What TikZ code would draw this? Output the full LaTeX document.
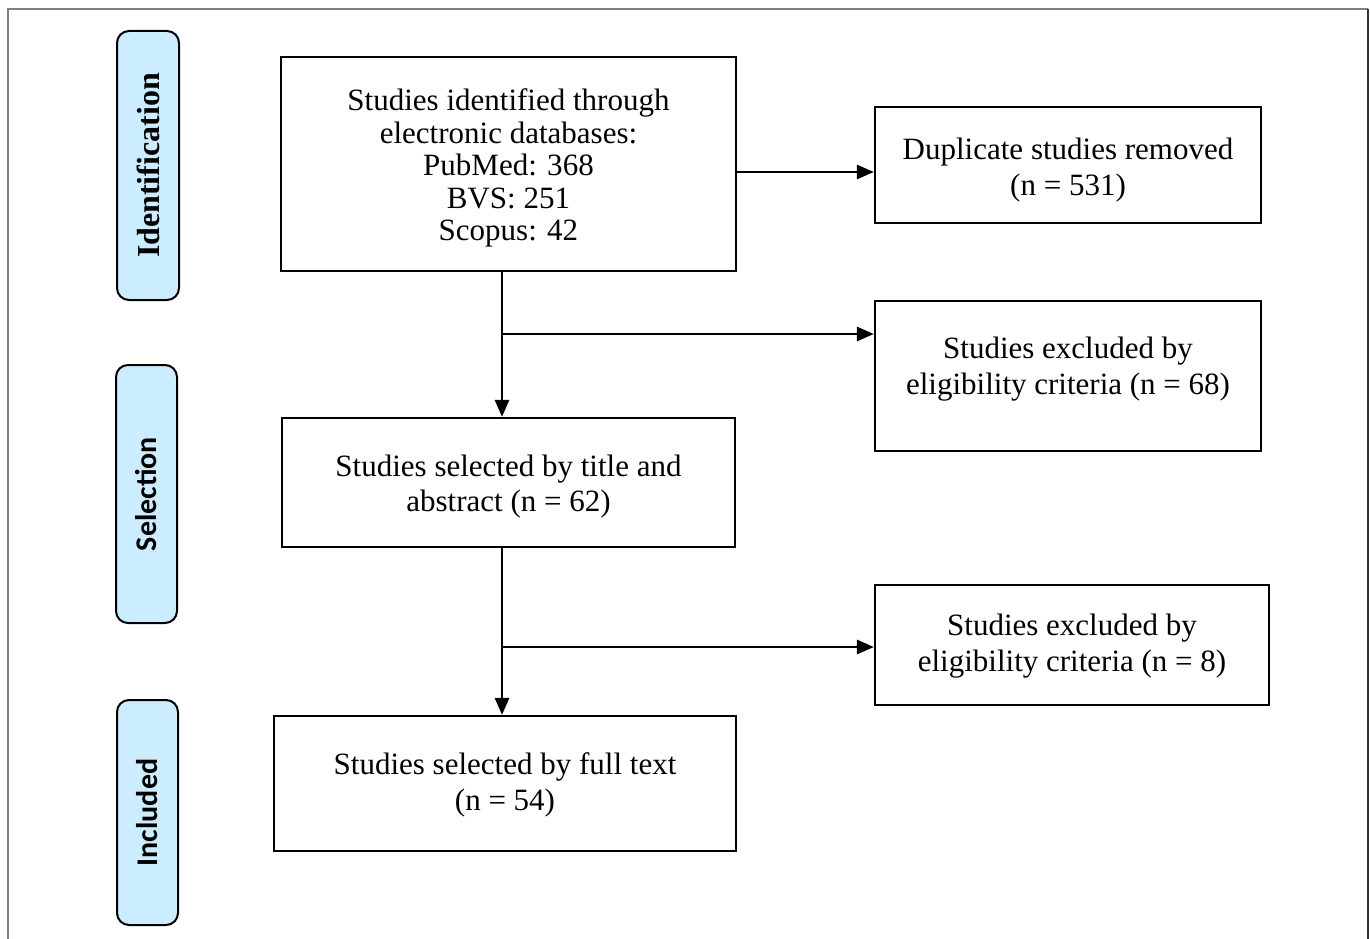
\documentclass[tikz,border=0pt]{standalone}
\usepackage{fontspec}
\setmainfont{Liberation Serif}
\newfontfamily\stagesans{Carlito}
\usetikzlibrary{arrows.meta}
\definecolor{stageblue}{RGB}{204,236,255}
\definecolor{framegray}{RGB}{128,128,128}

\begin{document}
\begin{tikzpicture}[x=1pt,y=-1pt,
  flowbox/.style={draw=black, line width=2.2pt, rectangle, inner sep=0pt},
  flowtext/.style={align=center, inner sep=0pt, font=\fontsize{31}{35.5}\selectfont},
  stagebox/.style={draw=black, line width=2pt, fill=stageblue, rounded corners=12pt, inner sep=0pt, rectangle},
  stagetext/.style={rotate=90, inner sep=0pt},
  link/.style={line width=2.8pt, -{Triangle[length=17pt,width=14pt]}},
]
\useasboundingbox (0,0) rectangle (1370,939);

% page frame
\draw[framegray, line width=2.5pt] (8,939) -- (8,9) -- (1368,9);
\draw[black!80, line width=2pt] (1368,9) -- (1368,939);

% stage labels on the left
\node[stagebox, minimum width=62pt, minimum height=269pt] (idbox) at (148,165.5) {};
\node[stagetext, font=\fontsize{32}{36}\selectfont\bfseries] (idtxt) at (idbox.center) {Identification};
\node[stagebox, minimum width=61pt, minimum height=258pt] (selbox) at (146.5,494) {};
\node[stagetext, font=\fontsize{30}{36}\stagesans\bfseries] (seltxt) at (selbox.center) {Selection};
\node[stagebox, minimum width=61pt, minimum height=225pt] (incbox) at (147.5,812.5) {};
\node[stagetext, font=\fontsize{30}{36}\stagesans\bfseries] (inctxt) at (incbox.center) {Included};

% main column
\node[flowbox, minimum width=455pt, minimum height=214pt] (ident) at (508.5,164) {};
\node[flowtext, font=\fontsize{31}{32.5}\selectfont] (identtxt) at (508.5,168) {Studies identified through\\electronic databases:\\PubMed: 368\\BVS: 251\\Scopus: 42};
\node[flowbox, minimum width=453pt, minimum height=129pt] (title) at (508.5,482.5) {};
\node[flowtext] (titletxt) at (508.5,486.5) {Studies selected by title and\\abstract (n = 62)};
\node[flowbox, minimum width=462pt, minimum height=135pt] (full) at (505,783.5) {};
\node[flowtext] (fulltxt) at (505,785) {Studies selected by full text\\(n = 54)};

% exclusion column
\node[flowbox, minimum width=386pt, minimum height=116pt] (dup) at (1068,165) {};
\node[flowtext] (duptxt) at (1068,170) {Duplicate studies removed\\(n = 531)};
\node[flowbox, minimum width=386pt, minimum height=150pt] (excla) at (1068,376) {};
\node[flowtext] (exclatxt) at (1068,369) {Studies excluded by\\eligibility criteria (n = 68)};
\node[flowbox, minimum width=394pt, minimum height=120pt] (exclb) at (1072,645) {};
\node[flowtext] (exclbtxt) at (1072,646) {Studies excluded by\\eligibility criteria (n = 8)};

% branching points on the trunk
\coordinate (spine) at (502,0);
\coordinate (forka) at (502,334);
\coordinate (forkb) at (502,647);
\coordinate (dupy) at (736,172);

% connectors
\draw[link] (ident.east |- dupy) -- (dup.west |- dupy);
\draw[link] (ident.south -| spine) -- (title.north -| spine);
\draw[link] (forka) -- (excla.west |- forka);
\draw[link] (title.south -| spine) -- (full.north -| spine);
\draw[link] (forkb) -- (exclb.west |- forkb);
\end{tikzpicture}
\end{document}
